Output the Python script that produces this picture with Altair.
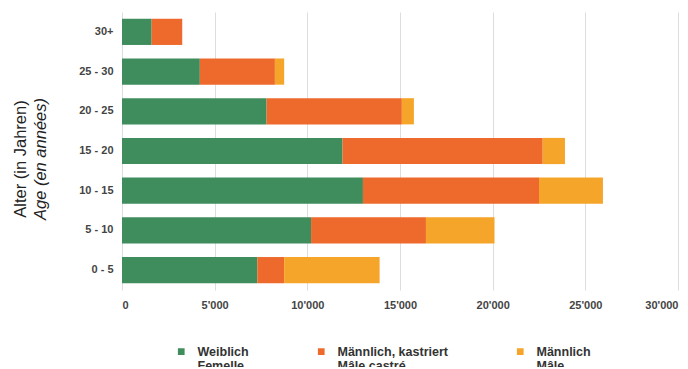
import altair as alt
import pandas as pd

ages = ["30+", "25 - 30", "20 - 25", "15 - 20", "10 - 15", "5 - 10", "0 - 5"]
weiblich = [1600, 4200, 7800, 11900, 13000, 10200, 7300]
kastriert = [1650, 4050, 7300, 10800, 9500, 6200, 1450]
maennlich = [0, 500, 650, 1200, 3450, 3700, 5150]

series = ["Weiblich|Femelle", "Männlich, kastriert|Mâle castré", "Männlich|Mâle"]
colors = ["#3f8c5c", "#ee6a2c", "#f5a52a"]

rows = []
for i, a in enumerate(ages):
    for j, (s, vals) in enumerate(zip(series, [weiblich, kastriert, maennlich])):
        rows.append({"age": a, "series": s, "value": vals[i], "ord": j})
df = pd.DataFrame(rows)

W, H = 556, 278

bars = alt.Chart(df).mark_bar().encode(
    y=alt.Y("age:N", sort=ages, title=None,
            scale=alt.Scale(paddingInner=0.34, paddingOuter=0.17),
            axis=alt.Axis(labelFont="Liberation Sans", labelFontSize=11, labelFontWeight="bold",
                          labelColor="#444", ticks=False, domain=False, labelPadding=9)),
    x=alt.X("value:Q", title=None, stack="zero",
            scale=alt.Scale(domain=[0, 30000], nice=False),
            axis=alt.Axis(values=[0, 5000, 10000, 15000, 20000, 25000, 30000],
                          labelExpr="replace(format(datum.value, ','), ',', \"'\")",
                          labelFont="Liberation Sans", labelFontSize=11, labelFontWeight="bold",
                          labelColor="#444", ticks=False, domain=False, labelPadding=9,
                          grid=True, gridColor="#dddddd")),
    color=alt.Color("series:N", sort=series,
                    scale=alt.Scale(domain=series, range=colors),
                    legend=alt.Legend(orient="none", legendX=53, legendY=333,
                                      direction="horizontal", title=None,
                                      labelExpr="split(datum.label, '|')",
                                      labelFont="Liberation Sans", labelFontSize=12.5,
                                      labelFontWeight="bold", labelColor="#333",
                                      symbolType="square", symbolSize=45, symbolStrokeWidth=0,
                                      columnPadding=66, labelBaseline="middle",
                                      labelOffset=10)),
    order=alt.Order("ord:Q"),
)

titles = pd.DataFrame({"t": ["Alter (in Jahren)", "Age (en années)"],
                       "style": ["normal", "italic"]})

t1 = alt.Chart(titles[titles["style"] == "normal"]).mark_text(
    angle=270, font="Liberation Sans", fontSize=16.5, color="#222", baseline="middle", align="center"
).encode(text="t:N", x=alt.value(-101), y=alt.value(H / 2 + 8))

t2 = alt.Chart(titles[titles["style"] == "italic"]).mark_text(
    angle=270, font="Liberation Sans", fontSize=16.5, fontStyle="italic", color="#222",
    baseline="middle", align="center"
).encode(text="t:N", x=alt.value(-81), y=alt.value(H / 2 + 8))

chart = alt.layer(bars, t1, t2).properties(
    width=W, height=H,
    autosize=alt.AutoSizeParams(type="none"),
    padding={"left": 114, "top": 4, "right": 2, "bottom": 77},
).configure_view(stroke=None)

chart.save("out.html", embed_options={"renderer": "svg", "actions": False})
